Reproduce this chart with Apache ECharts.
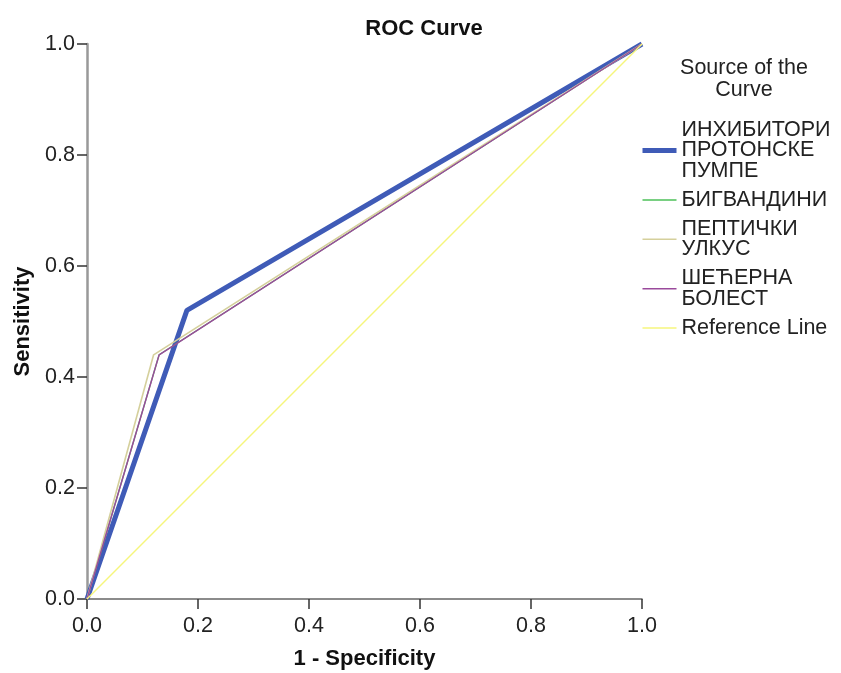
<!DOCTYPE html>
<html>
<head>
<meta charset="utf-8">
<script src="https://cdn.jsdelivr.net/npm/echarts@6/dist/echarts.min.js"></script>
<style>
  html, body { margin: 0; padding: 0; background: #fff; }
  #chart { width: 841px; height: 673px; }
</style>
</head>
<body>
<div id="chart"></div>
<script>
// ROC curve coordinates: 1 - specificity (x) and sensitivity (y)
const ppiX = [0, 0.18, 1];
const ppiY = [0, 0.52, 1];
const bigX = [0, 0.13, 1];
const bigY = [0, 0.44, 1];
const ulcerX = [0, 0.12, 1];
const ulcerY = [0, 0.44, 1];
const diabX = [0, 0.13, 1];
const diabY = [0, 0.44, 1];
const refX = [0, 1];
const refY = [0, 1];

const seriesNames = [
  'ИНХИБИТОРИ\nПРОТОНСКЕ\nПУМПЕ',
  'БИГВАНДИНИ',
  'ПЕПТИЧКИ\nУЛКУС',
  'ШЕЋЕРНА\nБОЛЕСТ',
  'Reference Line'
];
const tickValues = [0, 0.2, 0.4, 0.6, 0.8, 1.0];

const FONT = "'Liberation Sans', Arial, sans-serif";
const pairs = (xs, ys) => xs.map((x, i) => [x, ys[i]]);

const curves = [
  { name: seriesNames[0], data: pairs(ppiX, ppiY), color: '#3f5bb7', width: 5 },
  { name: seriesNames[1], data: pairs(bigX, bigY), color: '#4cc158', width: 1.3 },
  { name: seriesNames[2], data: pairs(ulcerX, ulcerY), color: '#d5d09c', width: 1.6 },
  { name: seriesNames[3], data: pairs(diabX, diabY), color: '#9a4a9c', width: 1.4 },
  { name: seriesNames[4], data: pairs(refX, refY), color: '#f6f67c', width: 1.4 }
];

const axisCommon = {
  type: 'value',
  min: tickValues[0],
  max: tickValues[tickValues.length - 1],
  interval: 0.2,
  axisTick: { show: true, length: 10, lineStyle: { color: '#333', width: 1.5 } },
  splitLine: { show: false },
  axisLabel: {
    fontFamily: FONT, fontSize: 21.5, color: '#222',
    formatter: v => v.toFixed(1)
  },
  nameLocation: 'middle',
  nameTextStyle: { fontFamily: FONT, fontSize: 22, fontWeight: 'bold', color: '#111' }
};

const chart = echarts.init(document.getElementById('chart'), null, { renderer: 'canvas' });
chart.setOption({
  backgroundColor: '#fff',
  animation: false,
  title: [
    {
      text: 'ROC Curve',
      left: 419, top: 13, textAlign: 'center',
      textStyle: { fontFamily: FONT, fontSize: 22, fontWeight: 'bold', color: '#111' }
    },
    {
      text: 'Source of the\nCurve',
      left: 739, top: 52, textAlign: 'center',
      textStyle: { fontFamily: FONT, fontSize: 21.5, fontWeight: 'normal', color: '#222', lineHeight: 22 }
    }
  ],
  grid: { left: 87, right: 199, top: 44, bottom: 74, outerBoundsMode: 'none', containLabel: false },
  legend: {
    orient: 'vertical',
    left: 640, top: 119,
    padding: 0,
    itemGap: 7,
    itemWidth: 34,
    itemHeight: 14,
    data: curves.map(c => ({
      name: c.name,
      itemStyle: { opacity: 0 },
      lineStyle: { color: c.color, width: c.width }
    })),
    selectedMode: false,
    itemStyle: { opacity: 0 },
    textStyle: { fontFamily: FONT, fontSize: 21.5, color: '#222', lineHeight: 20.5 }
  },
  xAxis: Object.assign({}, axisCommon, {
    name: '1 - Specificity',
    nameGap: 49,
    axisLine: { show: true, lineStyle: { color: '#666', width: 1.5 } },
    axisLabel: Object.assign({}, axisCommon.axisLabel, { margin: 16 })
  }),
  yAxis: Object.assign({}, axisCommon, {
    name: 'Sensitivity',
    nameGap: 53,
    axisLine: { show: true, lineStyle: { color: '#999', width: 2.5 } },
    axisLabel: Object.assign({}, axisCommon.axisLabel, { margin: 12 })
  }),
  series: curves.map(c => ({
    type: 'line',
    name: c.name,
    data: c.data,
    symbol: 'none',
    clip: false,
    color: c.color,
    lineStyle: { color: c.color, width: c.width }
  }))
});
</script>
</body>
</html>
